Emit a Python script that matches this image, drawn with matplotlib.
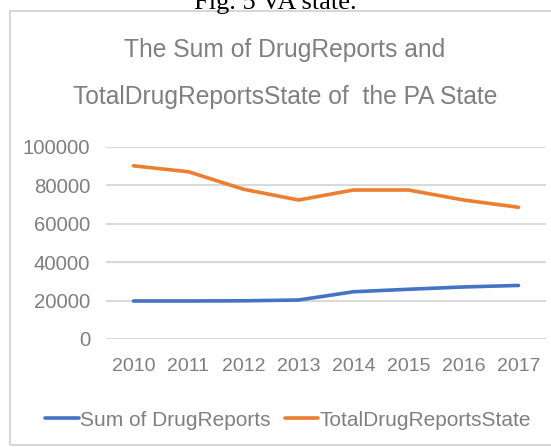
import matplotlib
matplotlib.use("Agg")
import matplotlib.pyplot as plt
from matplotlib.patches import Rectangle

# Data
years = [2010, 2011, 2012, 2013, 2014, 2015, 2016, 2017]
sum_drug_reports = [19800, 19800, 19900, 20300, 24600, 25900, 27100, 27900]
total_drug_reports_state = [90200, 87100, 78000, 72400, 77600, 77600, 72400, 68600]
series_names = ["Sum of DrugReports", "TotalDrugReportsState"]

plt.rcParams['font.family'] = ['Liberation Sans', 'DejaVu Sans']

text_gray = '#7f7f7f'
grid_gray = '#d9d9d9'

fig = plt.figure(figsize=(5.51, 4.47), dpi=100, facecolor='white')

# Caption of the page, cut off at the top
fig.text(0.5, 1 - 9 / 447, "Fig. 5 VA state.", ha='center', va='baseline',
         fontsize=19, family=['Liberation Serif', 'DejaVu Serif'], color='black')

# Chart frame
fig.patches.append(Rectangle((10 / 551, 2 / 447), 545 / 551, 434 / 447,
                             transform=fig.transFigure, fill=False,
                             edgecolor='#d0d0d0', linewidth=1.2))

ax = fig.add_axes([106 / 551, 108 / 447, 440 / 551, 192 / 447])

ax.plot(years, sum_drug_reports, color='#4472C4', linewidth=2.6,
        solid_capstyle='round', label=series_names[0])
ax.plot(years, total_drug_reports_state, color='#ED7D31', linewidth=2.6,
        solid_capstyle='round', label=series_names[1])

ax.set_xlim(2009.5, 2017.5)
ax.set_ylim(0, 100000)
ax.set_yticks(range(0, 100001, 20000))
ax.set_xticks(years)
ax.set_xticklabels([str(y) for y in years])
ax.yaxis.grid(True, color=grid_gray, linewidth=1.5)
ax.set_axisbelow(True)

for side in ['top', 'right', 'left', 'bottom']:
    ax.spines[side].set_visible(False)
ax.tick_params(axis='y', length=0, labelsize=14.7, colors=text_gray, pad=11.5)
ax.tick_params(axis='x', length=0, labelsize=14, colors=text_gray, pad=14)

fig.text(285 / 551, 1 - 57 / 447, "The Sum of DrugReports and", ha='center',
         va='baseline', fontsize=17.7, color=text_gray)
fig.text(285 / 551, 1 - 104 / 447, "TotalDrugReportsState of  the PA State",
         ha='center', va='baseline', fontsize=17.7, color=text_gray)

fig.legend(loc='center', bbox_to_anchor=(288 / 551, 1 - 420 / 447), ncol=2,
           frameon=False, fontsize=15, labelcolor=text_gray,
           handlelength=1.6, handletextpad=0.05, columnspacing=0.7)

fig.savefig('out.png', dpi=100, facecolor='white')
